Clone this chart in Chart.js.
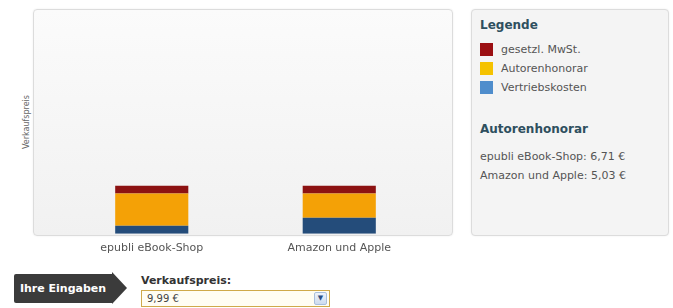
<!DOCTYPE html>
<html>
<head>
<meta charset="utf-8">
<script src="https://cdn.jsdelivr.net/npm/chart.js"></script>
<style>
  body { margin: 0; background: #fff; font-family: "DejaVu Sans", Verdana, sans-serif; }
  #wrap { position: relative; width: 673px; height: 308px; overflow: hidden; }
  .panel {
    position: absolute; box-sizing: border-box;
    border: 1px solid #dcdcdc; border-radius: 4px;
    background: linear-gradient(#fbfbfb, #f1f1f1);
    box-shadow: 0 0 2px rgba(0,0,0,0.08);
  }
  #chartPanel { left: 33px; top: 9px; width: 420px; height: 227px; }
  #legendPanel { left: 471px; top: 9px; width: 198px; height: 227px; background: #f4f4f4; }
  #countryChart { position: absolute; left: 0; top: 0; }
  #ylabel {
    position: absolute; left: 26px; top: 122px; font-size: 8px; color: #666;
    transform: translate(-50%, -50%) rotate(-90deg); white-space: nowrap;
  }
  .h { font-weight: bold; font-size: 12px; color: #2e4f5e; position: absolute; left: 8px; }
  .item { position: absolute; left: 8px; font-size: 11px; color: #555; }
  .item span.sw { position: absolute; left: 0; top: 0; width: 13px; height: 13px; }
  .item span.tx { position: absolute; left: 21px; top: 0; white-space: nowrap; }
  .line { position: absolute; left: 8px; font-size: 11px; color: #555; white-space: nowrap; }
  #tag {
    position: absolute; left: 14px; top: 274px; width: 98px; height: 29px; background: #3b3b3b;
    color: #fff; font-weight: bold; font-size: 11px; line-height: 29px; text-align: center;
    border-radius: 2px 0 0 2px;
  }
  #tagTip {
    position: absolute; left: 112px; top: 272px; width: 0; height: 0;
    border-top: 16.5px solid transparent; border-bottom: 16.5px solid transparent; border-left: 15px solid #3b3b3b;
  }
  #inLabel { position: absolute; left: 141px; top: 274px; font-size: 11px; font-weight: bold; color: #333; }
  #select {
    position: absolute; left: 141px; top: 290px; width: 189px; height: 17px; box-sizing: border-box;
    border: 1px solid #cfa94a; background: #fffdf3; font-size: 10px; color: #444; padding-left: 5px; line-height: 15px;
  }
  #select .btn {
    position: absolute; right: 2px; top: 1px; width: 13px; height: 13px; box-sizing: border-box;
    border: 1px solid #a9bfdc; background: linear-gradient(#eef3fb, #cddbef); border-radius: 2px;
    font-size: 7px; color: #2b4f85; text-align: center; line-height: 11px;
  }
</style>
</head>
<body>
<div id="wrap">
  <div class="panel" id="chartPanel"></div>
  <div id="ylabel">Verkaufspreis</div>
  <canvas id="countryChart" width="460" height="268"></canvas>

  <div class="panel" id="legendPanel">
    <div class="h" style="top:8px">Legende</div>
    <div id="legendItems"></div>
    <div class="h" style="top:112px">Autorenhonorar</div>
    <div id="honorarLines"></div>
  </div>

  <div id="tag">Ihre Eingaben</div>
  <div id="tagTip"></div>
  <div id="inLabel">Verkaufspreis:</div>
  <div id="select">9,99 €<div class="btn">&#9660;</div></div>
</div>
<script>
    // data (price 9,99 EUR)
    const categories = ['epubli eBook-Shop', 'Amazon und Apple'];
    const mwst = [1.60, 1.60];
    const autorenhonorar = [6.71, 5.03];
    const vertriebskosten = [1.68, 3.36];
    const yMax = 46.6;

    const seriesNames = ['gesetzl. MwSt.', 'Autorenhonorar', 'Vertriebskosten'];
    const barColors = ['#8c1212', '#f4a106', '#244c7a'];
    const legendColors = ['#9b0f12', '#f5c200', '#4f8dcc'];

    // legend panel
    const legendItems = document.getElementById('legendItems');
    seriesNames.forEach((name, i) => {
        const d = document.createElement('div');
        d.className = 'item';
        d.style.top = (33 + i * 19) + 'px';
        d.innerHTML = '<span class="sw" style="background:' + legendColors[i] + '"></span><span class="tx">' + name + '</span>';
        legendItems.appendChild(d);
    });
    const honorarLines = document.getElementById('honorarLines');
    categories.forEach((c, i) => {
        const d = document.createElement('div');
        d.className = 'line';
        d.style.top = (140 + i * 19) + 'px';
        d.textContent = c + ': ' + autorenhonorar[i].toFixed(2).replace('.', ',') + ' €';
        honorarLines.appendChild(d);
    });

    var ctx = document.getElementById('countryChart');
    var chart = new Chart(ctx, {
        type: 'bar',
        data: {
            labels: categories,
            datasets: [
                { label: seriesNames[2], data: vertriebskosten, backgroundColor: barColors[2] },
                { label: seriesNames[1], data: autorenhonorar, backgroundColor: barColors[1] },
                { label: seriesNames[0], data: mwst, backgroundColor: barColors[0] }
            ]
        },
        options: {
            responsive: false,
            animation: false,
            layout: { padding: { left: 58, right: 27, top: 10, bottom: 5 } },
            datasets: { bar: { categoryPercentage: 1, barPercentage: 0.39 } },
            plugins: { legend: { display: false }, tooltip: { enabled: false } },
            scales: {
                x: {
                    stacked: true,
                    grid: { display: false, drawTicks: false },
                    border: { display: false },
                    ticks: { padding: 8, color: '#555', font: { family: 'DejaVu Sans', size: 11 } }
                },
                y: {
                    stacked: true,
                    display: false,
                    min: 0,
                    max: yMax
                }
            }
        }
    });
</script>
</body>
</html>
